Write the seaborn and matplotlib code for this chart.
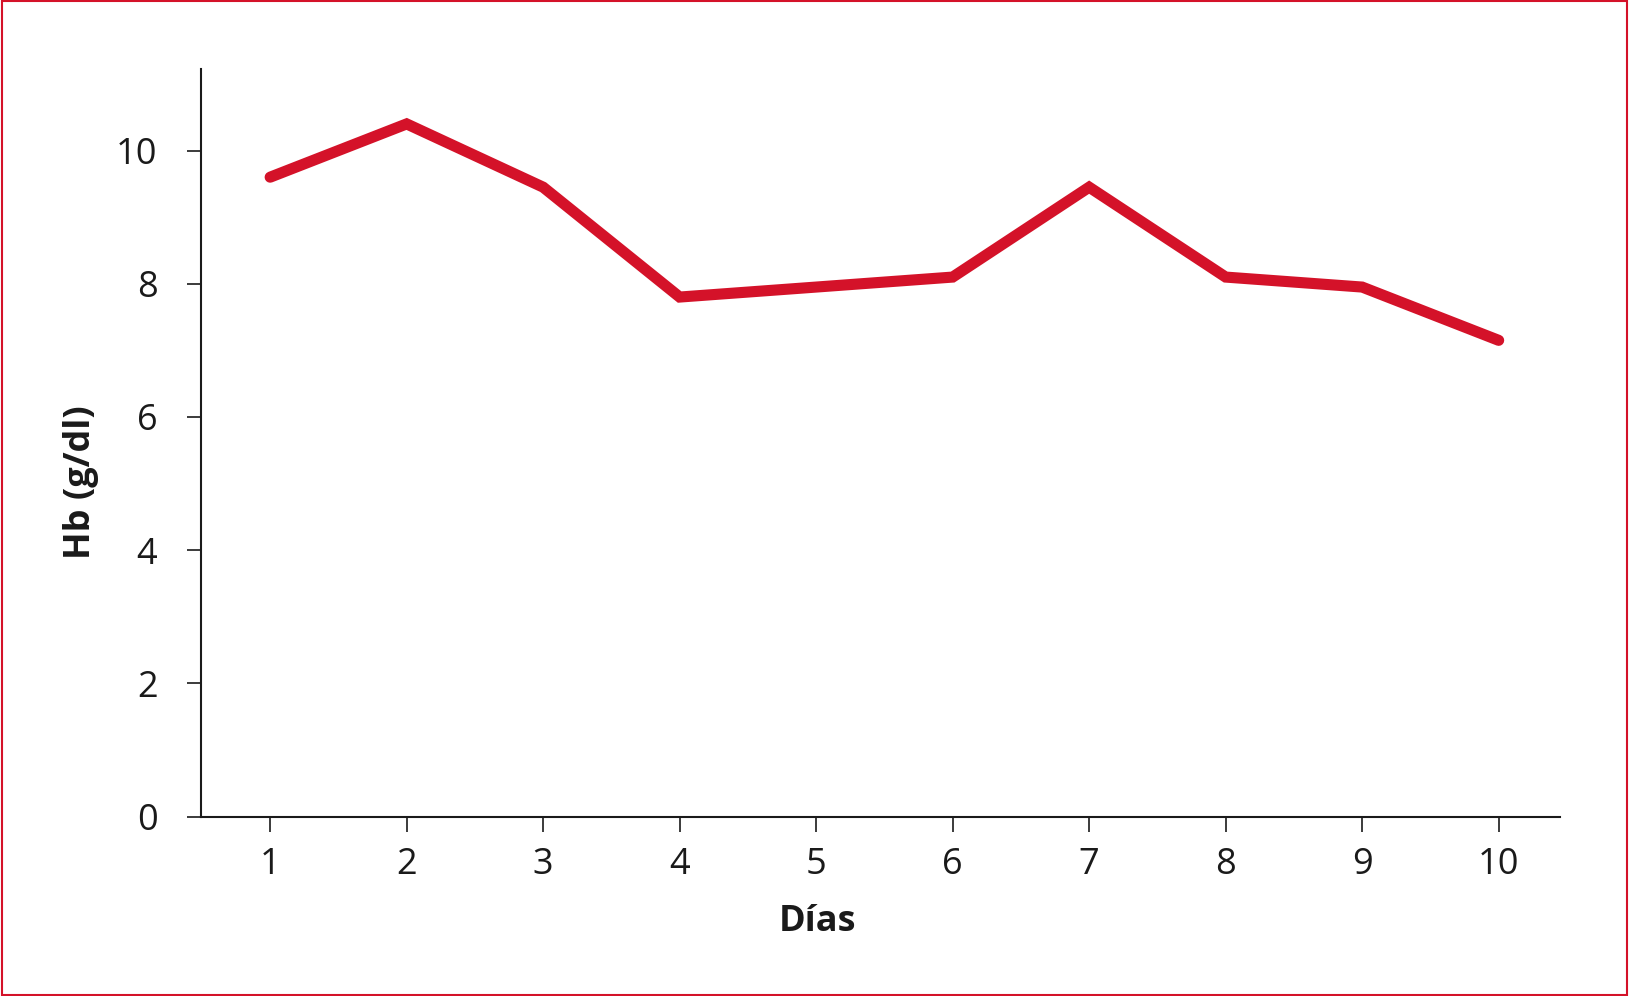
import matplotlib
matplotlib.use("Agg")
import matplotlib.pyplot as plt
import pandas as pd
import seaborn as sns
from matplotlib.patches import Rectangle

# values
days = [1, 2, 3, 4, 5, 6, 7, 8, 9, 10]
hb = [9.6, 10.4, 9.45, 7.8, 7.95, 8.1, 9.45, 8.1, 7.95, 7.15]
y_ticks = [0, 2, 4, 6, 8, 10]

RED = "#d41229"
INK = "#1a1a1a"

sns.set_style("ticks")
plt.rcParams["font.family"] = ["Open Sans", "DejaVu Sans"]

df = pd.DataFrame({"Días": days, "Hb (g/dl)": hb})

fig = plt.figure(figsize=(16.29, 9.96), dpi=100)
ax = fig.add_axes([0.1231, 0.1802, 0.8346, 0.7509])

sns.lineplot(data=df, x="Días", y="Hb (g/dl)", ax=ax, color=RED, linewidth=8,
             solid_capstyle="round", solid_joinstyle="miter")

ax.set_xlim(0.49, 10.45)
ax.set_ylim(0, 11.23)
ax.set_xticks(days)
ax.set_yticks(y_ticks)

for side in ("top", "right"):
    ax.spines[side].set_visible(False)
for side in ("left", "bottom"):
    ax.spines[side].set_color(INK)
    ax.spines[side].set_linewidth(1.5)

ax.tick_params(axis="x", length=11, width=1.2, color=INK, labelsize=26, labelcolor=INK, pad=11)
ax.tick_params(axis="y", length=10, width=1.2, color=INK, labelsize=26, labelcolor=INK, pad=21)

ax.set_xlabel("Días", fontsize=26, fontweight="bold", color=INK)
ax.set_ylabel("Hb (g/dl)", fontsize=26, fontweight="bold", color=INK)
ax.xaxis.set_label_coords(0.454, -0.141)
ax.yaxis.set_label_coords(-0.088, 0.447)
ax.xaxis.label.set_verticalalignment("center")
ax.yaxis.label.set_verticalalignment("center")

# thin red frame around the whole figure
fig.patches.append(Rectangle((0.001, 0.001), 0.998, 0.998, transform=fig.transFigure,
                             fill=False, edgecolor=RED, linewidth=1.5, zorder=10))

fig.savefig("out.png", dpi=100, facecolor="white")
